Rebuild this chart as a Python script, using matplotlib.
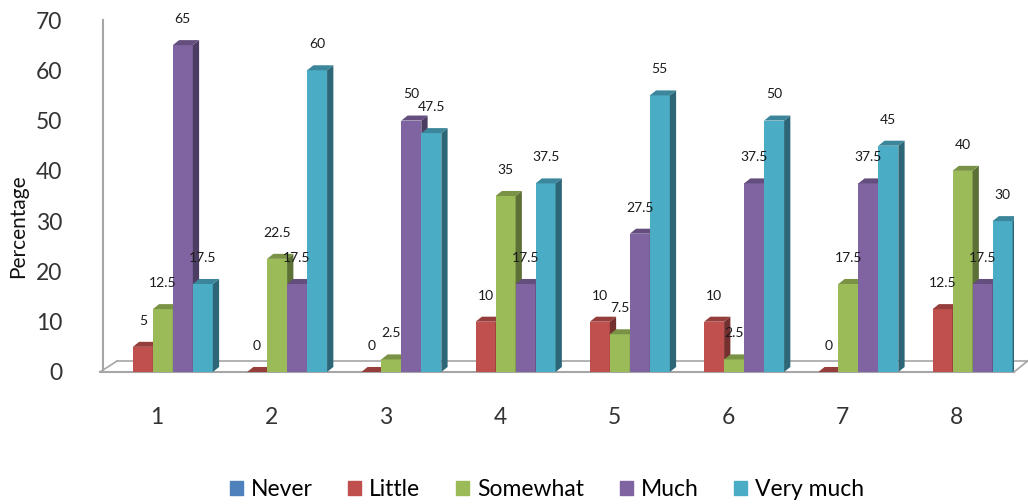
import numpy as np
import matplotlib.pyplot as plt
from matplotlib.patches import Polygon, Patch
import matplotlib.colors as mcolors

plt.rcParams['font.family'] = ['Lato', 'DejaVu Sans']

# data
categories = ['1', '2', '3', '4', '5', '6', '7', '8']
series = ['Never', 'Little', 'Somewhat', 'Much', 'Very much']
never = [np.nan] * 8
little = [5, 0, 0, 10, 10, 10, 0, 12.5]
somewhat = [12.5, 22.5, 2.5, 35, 7.5, 2.5, 17.5, 40]
much = [65, 17.5, 50, 17.5, 27.5, 37.5, 37.5, 17.5]
very_much = [17.5, 60, 47.5, 37.5, 55, 50, 45, 30]
colors = ['#4F81BD', '#C0504D', '#9BBB59', '#8064A2', '#4BACC6']

values = [never, little, somewhat, much, very_much]

fig = plt.figure(figsize=(10.28, 5.04), dpi=100)
ax = fig.add_axes([100 / 1028, 132 / 504, 914 / 1028, 352 / 504])

x = np.arange(1, len(categories) + 1)
width = 0.175
dx, dy = 0.055, 1.0   # fake 3D depth
offsets = (np.arange(5) - 2) * width + 0.05


def darker(c, f):
    r, g, b = mcolors.to_rgb(c)
    return (r * f, g * f, b * f)


for i, (name, vals, col) in enumerate(zip(series, values, colors)):
    vals = np.array(vals, dtype=float)
    xs = x + offsets[i]
    ok = ~np.isnan(vals)
    if not ok.any():
        continue
    # front faces
    ax.bar(xs[ok], vals[ok], width=width, color=col, zorder=3, linewidth=0)
    for xc, v in zip(xs[ok], vals[ok]):
        x0, x1 = xc - width / 2, xc + width / 2
        side = Polygon([(x1, 0), (x1 + dx, dy), (x1 + dx, v + dy), (x1, v)],
                       closed=True, color=darker(col, 0.6), zorder=3, lw=0)
        top = Polygon([(x0, v), (x0 + dx, v + dy), (x1 + dx, v + dy), (x1, v)],
                      closed=True, color=darker(col, 0.78), zorder=3, lw=0)
        ax.add_patch(side)
        ax.add_patch(top)
        ax.text(xc, v + 5.2, f'{v:g}', ha='center', va='center', fontsize=10,
                color='#1a1a1a', zorder=4)

# floor and wall lines
grey = '#a6a6a6'
ax.plot([0.5, 8.5], [0, 0], color=grey, lw=1.5, zorder=2, clip_on=False)
ax.plot([0.65, 8.62], [2.2, 2.2], color=grey, lw=1.2, zorder=2, clip_on=False)
ax.plot([0.5, 0.65], [0, 2.2], color=grey, lw=1.2, zorder=2, clip_on=False)
ax.plot([8.5, 8.62], [0, 2.2], color=grey, lw=1.2, zorder=2, clip_on=False)
ax.plot([0.53, 0.53], [0, 70], color=grey, lw=1.5, zorder=2, clip_on=False)

ax.set_xlim(0.5, 8.5)
ax.set_ylim(0, 70)
ax.set_yticks(range(0, 71, 10))
ax.set_xticks(x)
ax.set_xticklabels(categories)
for s in ax.spines.values():
    s.set_visible(False)
ax.tick_params(axis='both', length=0, labelsize=16.5, colors='#333333')
ax.tick_params(axis='y', pad=27)
ax.tick_params(axis='x', pad=25)
fig.text(18 / 1028, 1 - 226 / 504, 'Percentage', rotation=90, fontsize=15,
         ha='center', va='center', color='#111111')

handles = [Patch(color=c, label=s) for s, c in zip(series, colors)]
ax.legend(handles=handles, loc='center', bbox_to_anchor=(0.489, -0.335),
          ncol=5, frameon=False, fontsize=16.5, handlelength=0.57,
          handleheight=0.57, handletextpad=0.35, columnspacing=1.55)

fig.savefig('out.png', dpi=100)
